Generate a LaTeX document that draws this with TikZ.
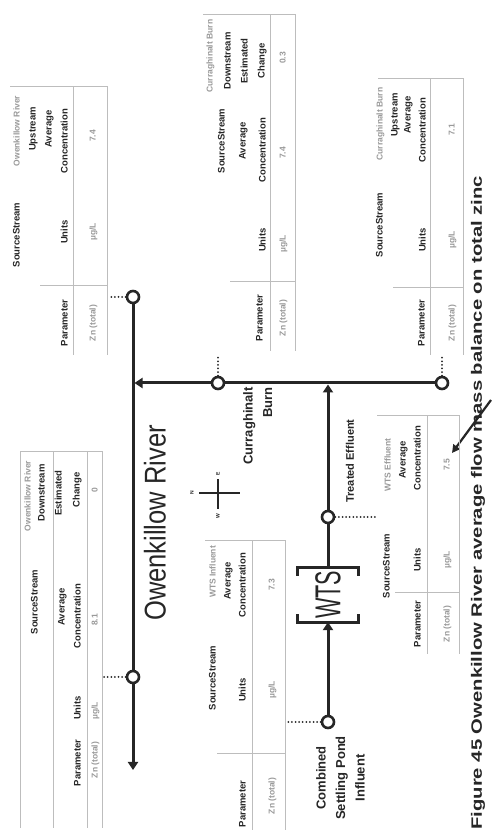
\documentclass[tikz,border=0pt]{standalone}
\usepackage{fontspec}
\setmainfont{Liberation Sans}
\usetikzlibrary{arrows.meta}
\definecolor{ink}{HTML}{262626}
\definecolor{rulegrey}{HTML}{BDBDBD}
\definecolor{valgrey}{HTML}{9A9A9A}
\tikzset{
  flow/.style={line width=3pt, draw=ink},
  arr/.style={flow, -{Triangle[length=8pt,width=10pt]}},
  bracket/.style={line width=3pt, draw=ink, line join=miter},
  station/.style={circle, draw=ink, line width=2.6pt, fill=white, minimum size=12pt, inner sep=0pt},
  probe/.style={draw=ink, line width=2pt, line cap=round, dash pattern=on 0pt off 3.6pt},
  hdr/.style={font=\fontsize{9.5}{11}\selectfont\bfseries, text=ink, inner sep=0pt, text height=7pt, text depth=2pt},
  val/.style={hdr, font=\fontsize{8.5}{10}\selectfont\bfseries, text=valgrey},
  tgrid/.style={draw=rulegrey, line width=0.9pt},
  lab/.style={font=\fontsize{13}{19.5}\selectfont\bfseries, text=ink, inner sep=0pt},
  cmp/.style={font=\fontsize{5}{6}\selectfont\bfseries, text=ink, inner sep=0pt},
  wtsbox/.style={minimum width=90pt, minimum height=61pt, inner sep=0pt, font=\fontsize{36}{40}\selectfont, text=ink},
}
\newcommand\tcells[2]{\foreach \xa/\ya/\txt/\sty [count=\k] in {#2} {\node[\sty] (#1c\k) at (\xa,\ya) {\txt};}}
\begin{document}
\begin{tikzpicture}
\begin{scope}[x={(1pt,0pt)}, y={(0pt,-1pt)}, rotate=90, transform shape]
\useasboundingbox (0,0) rectangle (836,491);
\fill[white] (0,0) rectangle (836,491);

% ---------- stations ----------
\node[station] (rU) at (539,133) {};
\node[station] (rD) at (159,133) {};
\coordinate (rEnd) at (66,133);
\coordinate (jR) at (453,133);
\node[station] (tU) at (453,442) {};
\node[station] (tM) at (453,218) {};
\coordinate (jT) at (453,328);
\node[station] (cs) at (114,328) {};
\node[station] (te) at (319,328) {};
\node[wtsbox, xscale=0.6] (wts) at (241,328) {WTS};

% ---------- flows ----------
\draw[flow] (rU) -- (rD);
\draw[arr] (rD) -- (rEnd);
\draw[flow] (tU) -- (tM);
\draw[arr, shorten >=1.5pt] (tM) -- (jR);
\draw[arr] (cs) -- (wts.west);
\draw[flow] (wts.east) -- (te);
\draw[arr, shorten >=1.5pt] (te) -- (jT);
\draw[bracket] (wts.north west) ++(8,0) -- (wts.north west) -- (wts.south west) -- ++(8,0);
\draw[bracket] (wts.north east) ++(-8,0) -- (wts.north east) -- (wts.south east) -- ++(-8,0);

% ---------- probes ----------
\coordinate (p1) at (539,108); \draw[probe] (rU) -- (p1);
\coordinate (p2) at (159,104); \draw[probe] (rD) -- (p2);
\coordinate (p3) at (114,287); \draw[probe] (cs) -- (p3);
\coordinate (p4) at (481,218); \draw[probe] (tM) -- (p4);
\coordinate (p5) at (481,442); \draw[probe] (tU) -- (p5);
\coordinate (p6) at (319,377); \draw[probe] (te) -- (p6);

% ---------- labels ----------
\node[font=\fontsize{30}{32}\selectfont, text=ink, inner sep=0pt, xscale=0.85] (river) at (313,155) {Owenkillow River};
\node[lab, align=right, anchor=north east] (clar) at (449,243) {Curraghinalt\\Burn};
\node[lab, font=\fontsize{11}{13}\selectfont\bfseries] (treat) at (375,350) {Treated Effluent};
\node[lab, align=center, anchor=north] (comb) at (58,316) {Combined\\Settling Pond\\Influent};
\node[font=\fontsize{15}{16}\selectfont\bfseries, text=ink, inner sep=0pt, anchor=west, xscale=1.35] (cap) at (6,478) {Figure 45 Owenkillow River average flow mass balance on total zinc};
\coordinate (ca1) at (436,491); \coordinate (ca2) at (383,452);
\draw[line width=2.2pt, draw=ink, -{Triangle[length=8pt,width=8pt]}] (ca1) -- (ca2);

% ---------- compass ----------
\node[cmp] (cN) at (343,192) {N};
\coordinate (cNa) at (343,199); \coordinate (cSa) at (343,240);
\draw[ink, line width=1.3pt] (cNa) -- (cSa);
\coordinate (cWa) at (327,218); \coordinate (cEa) at (357,218);
\draw[ink, line width=1.3pt] (cWa) -- (cEa);
\node[cmp] (cW) at (320,218) {W};
\node[cmp] (cE) at (362,218) {E};

% ---------- T1 Owenkillow upstream ----------
\draw[tgrid] (481,73) -- (750,73);
\draw[tgrid] (481,107) -- (750,107);
\draw[tgrid] (551,40) -- (551,107);
\draw[tgrid] (750,10) -- (750,107);
\tcells{ta}{601/17/SourceStream/hdr, 705/17/Owenkillow River/val, 707/33/Upstream/hdr, 707/49/Average/hdr,
  513/65/Parameter/hdr, 604/65/Units/hdr, 695/65/Concentration/hdr,
  513/93/Zn (total)/val, 604/93/{µg/L}/val, 700/93/7.4/val}

% ---------- T2 Owenkillow downstream ----------
\foreach \yy in {20,53,87,102} \draw[tgrid] (8,\yy) -- (385,\yy);
\draw[tgrid] (385,20) -- (385,102);
\tcells{tb}{234/35/SourceStream/hdr, 340/28/Owenkillow River/val, 343/42/Downstream/hdr,
  229/62/Average/hdr, 343/59/Estimated/hdr,
  73/78/Parameter/hdr, 128/78/Units/hdr, 220/78/Concentration/hdr, 346/77/Change/hdr,
  76/95/Zn (total)/val, 125/95/{µg/L}/val, 216/95/8.1/val, 346/95/0/val}

% ---------- T3 WTS influent ----------
\draw[tgrid] (6,252) -- (296,252);
\draw[tgrid] (6,285) -- (296,285);
\draw[tgrid] (83,217) -- (83,285);
\draw[tgrid] (296,205) -- (296,285);
\tcells{tc}{158/213/SourceStream/hdr, 264/213/WTS Influent/val, 255/228/Average/hdr,
  32/243/Parameter/hdr, 146/243/Units/hdr, 251/243/Concentration/hdr,
  40/272/Zn (total)/val, 146/272/{µg/L}/val, 251/272/7.3/val}

% ---------- T4 Curraghinalt downstream ----------
\draw[tgrid] (485,270) -- (822,270);
\draw[tgrid] (485,295) -- (822,295);
\draw[tgrid] (555,230) -- (555,295);
\draw[tgrid] (822,203) -- (822,295);
\tcells{td}{695/222/SourceStream/hdr, 780/210/Curraghinalt Burn/val, 775/228/Downstream/hdr,
  695/243/Average/hdr, 775/245/Estimated/hdr,
  518/260/Parameter/hdr, 596/263/Units/hdr, 686/263/Concentration/hdr, 775/262/Change/hdr,
  518/283/Zn (total)/val, 592/283/{µg/L}/val, 683/283/7.4/val, 778/283/0.3/val}

% ---------- T5 Curraghinalt upstream ----------
\draw[tgrid] (481,430) -- (758,430);
\draw[tgrid] (481,463) -- (758,463);
\draw[tgrid] (549,393) -- (549,463);
\draw[tgrid] (758,378) -- (758,463);
\tcells{te}{611/380/SourceStream/hdr, 712/380/Curraghinalt Burn/val, 721/395/Upstream/hdr, 721/408/Average/hdr,
  513/422/Parameter/hdr, 596/423/Units/hdr, 706/423/Concentration/hdr,
  513/452/Zn (total)/val, 596/452/{µg/L}/val, 706/452/7.1/val}

% ---------- T6 WTS effluent ----------
\draw[tgrid] (182,427) -- (421,427);
\draw[tgrid] (182,459) -- (421,459);
\draw[tgrid] (244,395) -- (244,459);
\draw[tgrid] (421,377) -- (421,459);
\tcells{tf}{270/387/SourceStream/hdr, 371/388/WTS Effluent/val, 376/403/Average/hdr,
  212/418/Parameter/hdr, 276/418/Units/hdr, 378/418/Concentration/hdr,
  212/447/Zn (total)/val, 276/447/{µg/L}/val, 371/447/7.5/val}
\end{scope}
\end{tikzpicture}
\end{document}
